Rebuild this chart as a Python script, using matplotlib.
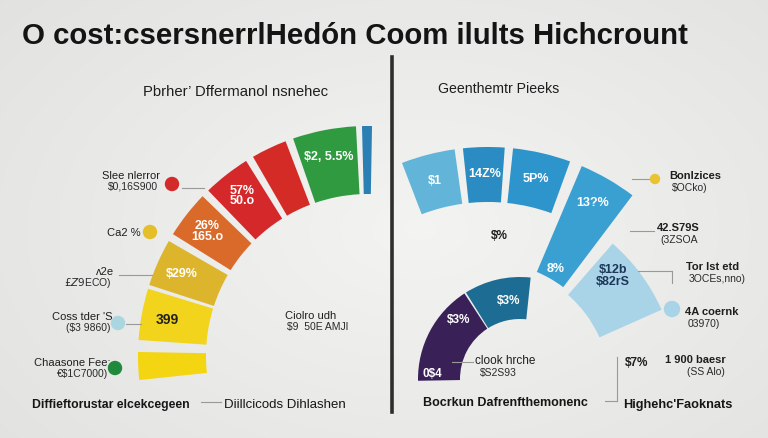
import matplotlib.pyplot as plt
import numpy as np
from matplotlib.patches import Wedge, Circle

plt.rcParams['font.family'] = ['Liberation Sans', 'DejaVu Sans']

# ---- left gauge (angles in degrees, measured counter-clockwise from +x) ----
left_start = [179, 163, 150, 136, 122, 111, 93, 89]
left_end = [186, 176, 162, 148, 134, 120, 109, 91.5]
left_colors = ['#f4d512', '#f3d41c', '#ddb52c', '#d96a2a', '#d4282a', '#d42b26', '#2f9a40', '#2a80b2']
left_text = ['', '399', '$29%', '26%\n165.o', '57%\n50.o', '', '$2, 5.5%', '']
left_text_color = ['w', '#222222', 'w', 'w', 'w', 'w', 'w', 'w']

# ---- right chart segments ----
top_start = [98, 86, 70]
top_end = [111, 96, 84]
top_colors = ['#62b5d8', '#2a8cc2', '#2d95cb']
top_text = ['$1', '14Z%', '5P%']

bar_start, bar_end = 53, 67
bar_color = '#3aa0d2'
bar_text = ['13?%', '8%']

light_start, light_end = 24, 49
light_color = '#a9d4e8'
light_text = '$12b\n$82rS'

low_start = [123, 84]
low_end = [181, 122]
low_colors = ['#392158', '#1d6c93']
low_text = ['$3%', '$3%', '0$4']

# ---- callouts ----
left_callouts = ['Slee nlerror', 'Ca2 %', 'ʌ2e', 'Coss tder \'S', 'Chaasone Fee:']
left_callout_values = ['$0,16S900', '', '$£Z9$ECO)', '($3 9860)', '€$1C7000)']
left_dot_colors = ['#d32a2a', '#e4bf2a', None, '#a9d6df', '#1f8a3b']

right_callouts = ['Bonlzices', '42.S79S', 'Tor lst etd', '4A coernk', '1 900 baesr']
right_callout_values = ['$OCko)', '(3ZSOA', '3OCEs,nno)', '03970)', '(SS Alo)']
right_dot_colors = ['#e8c431', None, None, '#a9d4e8', None]

fig = plt.figure(figsize=(7.68, 4.39), dpi=100)
ax = fig.add_axes([0, 0, 1, 1])
ax.set_xlim(0, 768)
ax.set_ylim(439, 0)
ax.axis('off')

# soft background
yy, xx = np.mgrid[0:439, 0:768]
d = np.sqrt(((xx - 420) / 520.0) ** 2 + ((yy - 230) / 330.0) ** 2)
shade = 0.955 - 0.065 * d
bg = np.dstack([shade, shade, shade - 0.005])
ax.imshow(np.clip(bg, 0, 1), extent=(0, 768, 439, 0), zorder=0)


def seg(cx, cy, r, w, a1, a2, color):
    ax.add_patch(Wedge((cx, cy), r, -a2, -a1, width=w, facecolor=color,
                       edgecolor='none', zorder=2))


def pol(cx, cy, a, r):
    t = np.radians(a)
    return cx + r * np.cos(t), cy - r * np.sin(t)


# left gauge
lcx, lcy, lr, lw = 368, 357, 230, 68
for a1, a2, c, t, tc in zip(left_start, left_end, left_colors, left_text, left_text_color):
    seg(lcx, lcy, lr, lw, a1, a2, c)
    if t:
        x, y = pol(lcx, lcy, (a1 + a2) / 2, 204)
        ax.text(x, y, t, color=tc, fontsize=9 if tc == 'w' else 10, fontweight='bold',
                ha='center', va='center', linespacing=0.8, zorder=3)

# right: top arc, bar, light wedge (shared centre)
rcx, rcy = 488, 388
for a1, a2, c, t in zip(top_start, top_end, top_colors, top_text):
    seg(rcx, rcy, 240, 55, a1, a2, c)
    x, y = pol(rcx, rcy, (a1 + a2) / 2, 214)
    ax.text(x, y, t, color='w', fontsize=9, fontweight='bold', ha='center', va='center', zorder=3)

seg(rcx, rcy, 240, 115, bar_start, bar_end, bar_color)
for t, r in zip(bar_text, [213, 137]):
    x, y = pol(rcx, rcy, (bar_start + bar_end) / 2 + 0.5, r)
    ax.text(x, y, t, color='w', fontsize=9, fontweight='bold', ha='center', va='center', zorder=3)

seg(rcx, rcy, 190, 68, light_start, light_end, light_color)
x, y = pol(rcx, rcy, 42, 168)
ax.text(x, y, light_text, color='#1c3758', fontsize=9, fontweight='bold', ha='center',
        va='center', linespacing=1.0, zorder=3)

# right: lower arc
bcx, bcy = 520, 380
for a1, a2, c in zip(low_start, low_end, low_colors):
    seg(bcx, bcy, 102, 42, a1, a2, c)
for t, a, r in zip(low_text, [98, 136, 176], [80, 86, 88]):
    x, y = pol(bcx, bcy, a, r)
    ax.text(x, y, t, color='w', fontsize=8.5, fontweight='bold', ha='center', va='center', zorder=3)

# divider
ax.plot([392, 392], [58, 413], color='#2e2e2e', lw=2.6, zorder=2)

# title and headings
ax.text(22, 36, 'O cost:csersnerrlHedón Coom ilults Hichcrount', fontsize=21.2,
        fontweight='bold', color='#141414', ha='left', va='center')
ax.text(236, 92, 'Pbrher\u2019 Dffermanol nsnehec', fontsize=10.7, color='#1e1e1e',
        ha='center', va='center')
ax.text(499, 89, 'Geenthemtr Pieeks', fontsize=10.2, color='#1e1e1e', ha='center', va='center')

# left callouts
lpos = [(160, 176), (141, 233), (114, 272), (112, 317), (110, 363)]
ldot = [(172, 185), (150, 233), None, (118, 324), (115, 369)]
for (x, y), name, val, dp, dc in zip(lpos, left_callouts, left_callout_values, ldot, left_dot_colors):
    ax.text(x, y, name, fontsize=8, color='#1e1e1e', ha='right', va='center')
    if val:
        ax.text(x - 2, y + 11, val, fontsize=7.5, color='#2a2a2a', ha='right', va='center')
    if dc:
        ax.add_patch(Circle(dp, 6.5, color=dc, zorder=3))
ax.plot([182, 204], [189, 189], color='#999999', lw=0.8)
ax.plot([119, 152], [276, 276], color='#999999', lw=0.8)
ax.plot([126, 141], [325, 325], color='#999999', lw=0.8)

ax.text(285, 316, 'Ciolro udh', fontsize=8, color='#1e1e1e', ha='left', va='center')
ax.text(287, 327, '$9  50E AMJl', fontsize=7.5, color='#2a2a2a', ha='left', va='center')

# right callouts
rpos = [(669, 176), (657, 228), (686, 267), (685, 312), (665, 360)]
rdot = [(655, 180), None, None, (672, 310), None]
rsize = [4.5, 0, 0, 7.5, 0]
for (x, y), name, val, dp, dc, s in zip(rpos, right_callouts, right_callout_values, rdot,
                                       right_dot_colors, rsize):
    ax.text(x, y, name, fontsize=8, fontweight='bold', color='#1e1e1e', ha='left', va='center')
    ax.text(x + 3 if name[0] != '1' else x + 22, y + 12, val, fontsize=7.5, color='#2a2a2a',
            ha='left', va='center')
    if dc:
        ax.add_patch(Circle(dp, s, color=dc, zorder=3))
ax.plot([632, 650], [180, 180], color='#999999', lw=0.8)
ax.plot([630, 654], [232, 232], color='#999999', lw=0.8)
ax.plot([638, 672], [272, 272], color='#999999', lw=0.8)
ax.plot([672, 672], [272, 284], color='#999999', lw=0.8)

ax.text(475, 361, 'clook hrche', fontsize=8.5, color='#1e1e1e', ha='left', va='center')
ax.text(480, 373, '$S2S93', fontsize=7.5, color='#2a2a2a', ha='left', va='center')
ax.plot([452, 473], [363, 363], color='#999999', lw=0.8)

ax.text(499, 236, '$%', fontsize=8.5, fontweight='bold', color='#1e1e1e', ha='center', va='center')
ax.text(625, 363, '$7%', fontsize=8.5, fontweight='bold', color='#1e1e1e', ha='left', va='center')
ax.plot([617, 617], [358, 402], color='#999999', lw=0.8)
ax.plot([605, 617], [402, 402], color='#999999', lw=0.8)

# bottom labels
ax.text(32, 405, 'Diffieftorustar elcekcegeen', fontsize=8.8, fontweight='bold',
        color='#161616', ha='left', va='center')
ax.plot([201, 221], [403, 403], color='#999999', lw=0.8)
ax.text(224, 405, 'Diillcicods Dihlashen', fontsize=9.5, color='#161616', ha='left', va='center')
ax.text(423, 403, 'Bocrkun Dafrenfthemonenc', fontsize=9, fontweight='bold',
        color='#161616', ha='left', va='center')
ax.text(623, 405, 'Highehc\'Faoknats', fontsize=9.2, fontweight='bold',
        color='#161616', ha='left', va='center')

plt.savefig('out.png', dpi=100)
